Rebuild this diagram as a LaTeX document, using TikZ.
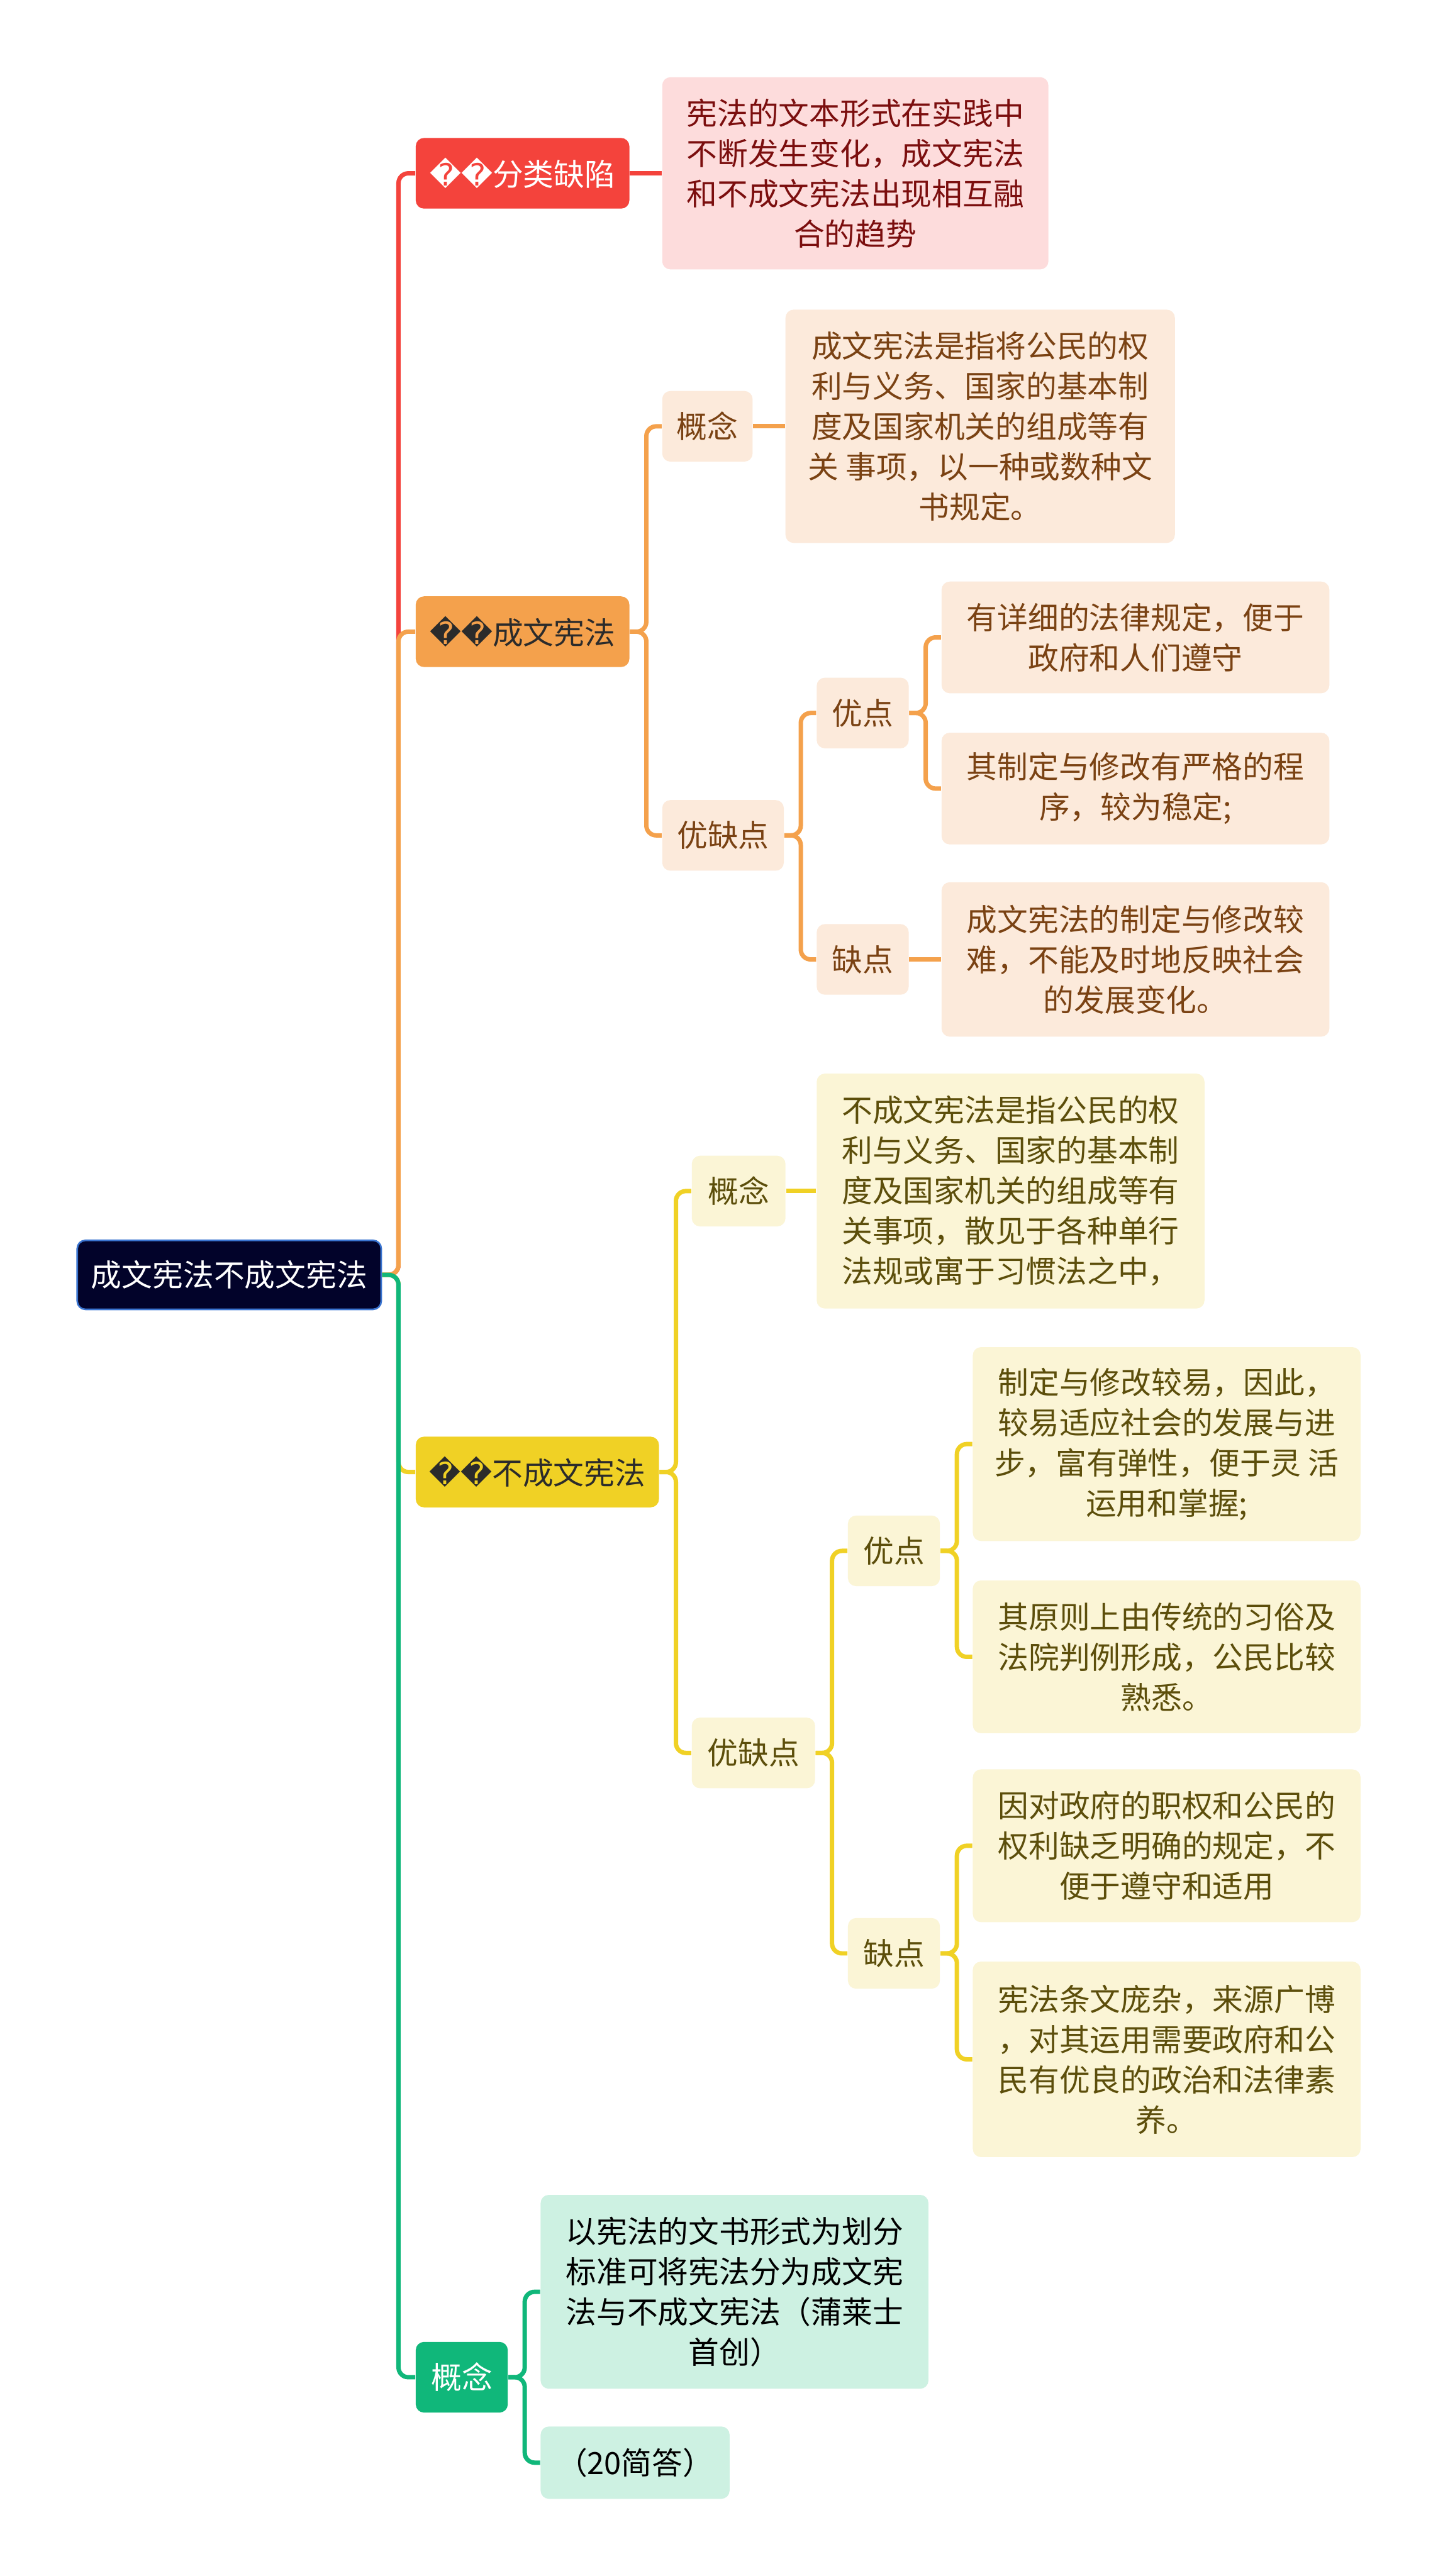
\documentclass[tikz,border=0pt]{standalone}
\usepackage{fontspec}
\setmainfont{Noto Sans CJK SC}
\newfontfamily\symfont{DejaVu Sans}
\usetikzlibrary{positioning}
\definecolor{cred}{HTML}{F4433C}
\definecolor{corange}{HTML}{F4A14C}
\definecolor{cyellow}{HTML}{F0D125}
\definecolor{cgreen}{HTML}{10B77A}
\definecolor{rootfill}{HTML}{02032A}
\definecolor{rootline}{HTML}{3A74D0}
\definecolor{pinkbox}{HTML}{FDDCDC}
\definecolor{pinktext}{HTML}{7B0E0E}
\definecolor{peachbox}{HTML}{FCEADB}
\definecolor{peachtext}{HTML}{7A4213}
\definecolor{lyellowbox}{HTML}{FBF5D6}
\definecolor{lyellowtext}{HTML}{5C4E0B}
\definecolor{lgreenbox}{HTML}{CDF1E2}
\definecolor{darktext}{HTML}{2B2B2B}
\newcommand{\qmark}{{\symfont\char"FFFD\char"FFFD}}

\begin{document}
\begin{tikzpicture}[x=0.6pt,y=-0.6pt,
    every node/.style={font=\fontsize{11.2}{14.7}\selectfont, align=center, inner sep=0pt, rounded corners=3pt},
    root/.style={fill=rootfill, draw=rootline, line width=0.6pt, text=white, minimum width=111pt, minimum height=25.2pt},
    topic/.style={fill=#1, minimum height=25.8pt},
    sub/.style={fill=#1, minimum height=25.8pt},
    leaf/.style={fill=#1, minimum width=141.6pt},
    straight/.style={line width=1.6pt},
    elbow/.style={line width=1.6pt, rounded corners=3.6pt, to path={-- ++(10,0) |- (\tikztotarget)}}]

    \fill[white] (0,0) rectangle (875,1568);
    \useasboundingbox (0,0) rectangle (875,1568);

    % root and main branches
    \node[root] (root) at (139.5,776) {成文宪法不成文宪法};
    \node[topic=cred, text=white, minimum width=78pt] (fl) at (318,105.5) {\qmark 分类缺陷};
    \node[topic=corange, text=darktext, minimum width=78pt] (cw) at (318,384.5) {\qmark 成文宪法};
    \node[topic=cyellow, text=darktext, minimum width=88.8pt] (bw) at (327,896) {\qmark 不成文宪法};
    \node[topic=cgreen, text=white, minimum width=33.6pt] (gn) at (281,1447) {概念};

    % 分类缺陷
    \node[leaf=pinkbox, text=pinktext, minimum width=141pt, minimum height=70.2pt] (fl1) at (520.5,105.5)
        {宪法的文本形式在实践中\\不断发生变化，成文宪法\\和不成文宪法出现相互融\\合的趋势};

    % 成文宪法
    \node[sub=peachbox, text=peachtext, minimum width=33pt] (cwgn) at (430.5,259.5) {概念};
    \node[leaf=peachbox, text=peachtext, minimum width=142.2pt, minimum height=85.2pt] (cwgn1) at (596.5,259.5)
        {成文宪法是指将公民的权\\利与义务、国家的基本制\\度及国家机关的组成等有\\关 事项，以一种或数种文\\书规定。};
    \node[sub=peachbox, text=peachtext, minimum width=44.4pt] (cwyq) at (440,508.5) {优缺点};
    \node[sub=peachbox, text=peachtext, minimum width=33.6pt] (cwyd) at (525,434) {优点};
    \node[sub=peachbox, text=peachtext, minimum width=33.6pt] (cwqd) at (525,584) {缺点};
    \node[leaf=peachbox, text=peachtext, minimum height=40.8pt] (cwyd1) at (691,388)
        {有详细的法律规定，便于\\政府和人们遵守};
    \node[leaf=peachbox, text=peachtext, minimum height=40.8pt] (cwyd2) at (691,480)
        {其制定与修改有严格的程\\序，较为稳定;};
    \node[leaf=peachbox, text=peachtext, minimum height=56.4pt] (cwqd1) at (691,584)
        {成文宪法的制定与修改较\\难，不能及时地反映社会\\的发展变化。};

    % 不成文宪法
    \node[sub=lyellowbox, text=lyellowtext, minimum width=34.2pt] (bwgn) at (449.5,725) {概念};
    \node[leaf=lyellowbox, text=lyellowtext, minimum height=85.8pt] (bwgn1) at (615,725)
        {不成文宪法是指公民的权\\利与义务、国家的基本制\\度及国家机关的组成等有\\关事项，散见于各种单行\\法规或寓于习惯法之中，};
    \node[sub=lyellowbox, text=lyellowtext, minimum width=45pt] (bwyq) at (458.5,1067) {优缺点};
    \node[sub=lyellowbox, text=lyellowtext, minimum width=33.6pt] (bwyd) at (544,944) {优点};
    \node[sub=lyellowbox, text=lyellowtext, minimum width=33.6pt] (bwqd) at (544,1189) {缺点};
    \node[leaf=lyellowbox, text=lyellowtext, minimum height=70.8pt] (bwyd1) at (710,879)
        {制定与修改较易，因此，\\较易适应社会的发展与进\\步，富有弹性，便于灵 活\\运用和掌握;};
    \node[leaf=lyellowbox, text=lyellowtext, minimum height=55.8pt] (bwyd2) at (710,1008.5)
        {其原则上由传统的习俗及\\法院判例形成，公民比较\\熟悉。};
    \node[leaf=lyellowbox, text=lyellowtext, minimum height=55.8pt] (bwqd1) at (710,1123.5)
        {因对政府的职权和公民的\\权利缺乏明确的规定，不\\便于遵守和适用};
    \node[leaf=lyellowbox, text=lyellowtext, minimum height=71.4pt] (bwqd2) at (710,1253.5)
        {宪法条文庞杂，来源广博\\，对其运用需要政府和公\\民有优良的政治和法律素\\养。};

    % 概念
    \node[leaf=lgreenbox, text=black, minimum height=70.8pt] (gn1) at (447,1395)
        {以宪法的文书形式为划分\\标准可将宪法分为成文宪\\法与不成文宪法（蒲莱士\\首创）};
    \node[leaf=lgreenbox, text=black, minimum width=69pt, minimum height=26.4pt] (gn2) at (386.5,1499) {（20简答）};

    % connectors
    \path (root.east) edge[elbow, cred] (fl.west)
          (root.east) edge[elbow, corange] (cw.west)
          (root.east) edge[elbow, cyellow] (bw.west)
          (root.east) edge[elbow, cgreen] (gn.west);
    \path[corange]
          (fl.east) edge[straight, cred] (fl1.west)
          (cw.east) edge[elbow] (cwgn.west)
          (cw.east) edge[elbow] (cwyq.west)
          (cwgn.east) edge[straight] (cwgn1.west)
          (cwyq.east) edge[elbow] (cwyd.west)
          (cwyq.east) edge[elbow] (cwqd.west)
          (cwyd.east) edge[elbow] (cwyd1.west)
          (cwyd.east) edge[elbow] (cwyd2.west)
          (cwqd.east) edge[straight] (cwqd1.west);
    \path[cyellow]
          (bw.east) edge[elbow] (bwgn.west)
          (bw.east) edge[elbow] (bwyq.west)
          (bwgn.east) edge[straight] (bwgn1.west)
          (bwyq.east) edge[elbow] (bwyd.west)
          (bwyq.east) edge[elbow] (bwqd.west)
          (bwyd.east) edge[elbow] (bwyd1.west)
          (bwyd.east) edge[elbow] (bwyd2.west)
          (bwqd.east) edge[elbow] (bwqd1.west)
          (bwqd.east) edge[elbow] (bwqd2.west);
    \path[cgreen]
          (gn.east) edge[elbow] (gn1.west)
          (gn.east) edge[elbow] (gn2.west);
\end{tikzpicture}
\end{document}
